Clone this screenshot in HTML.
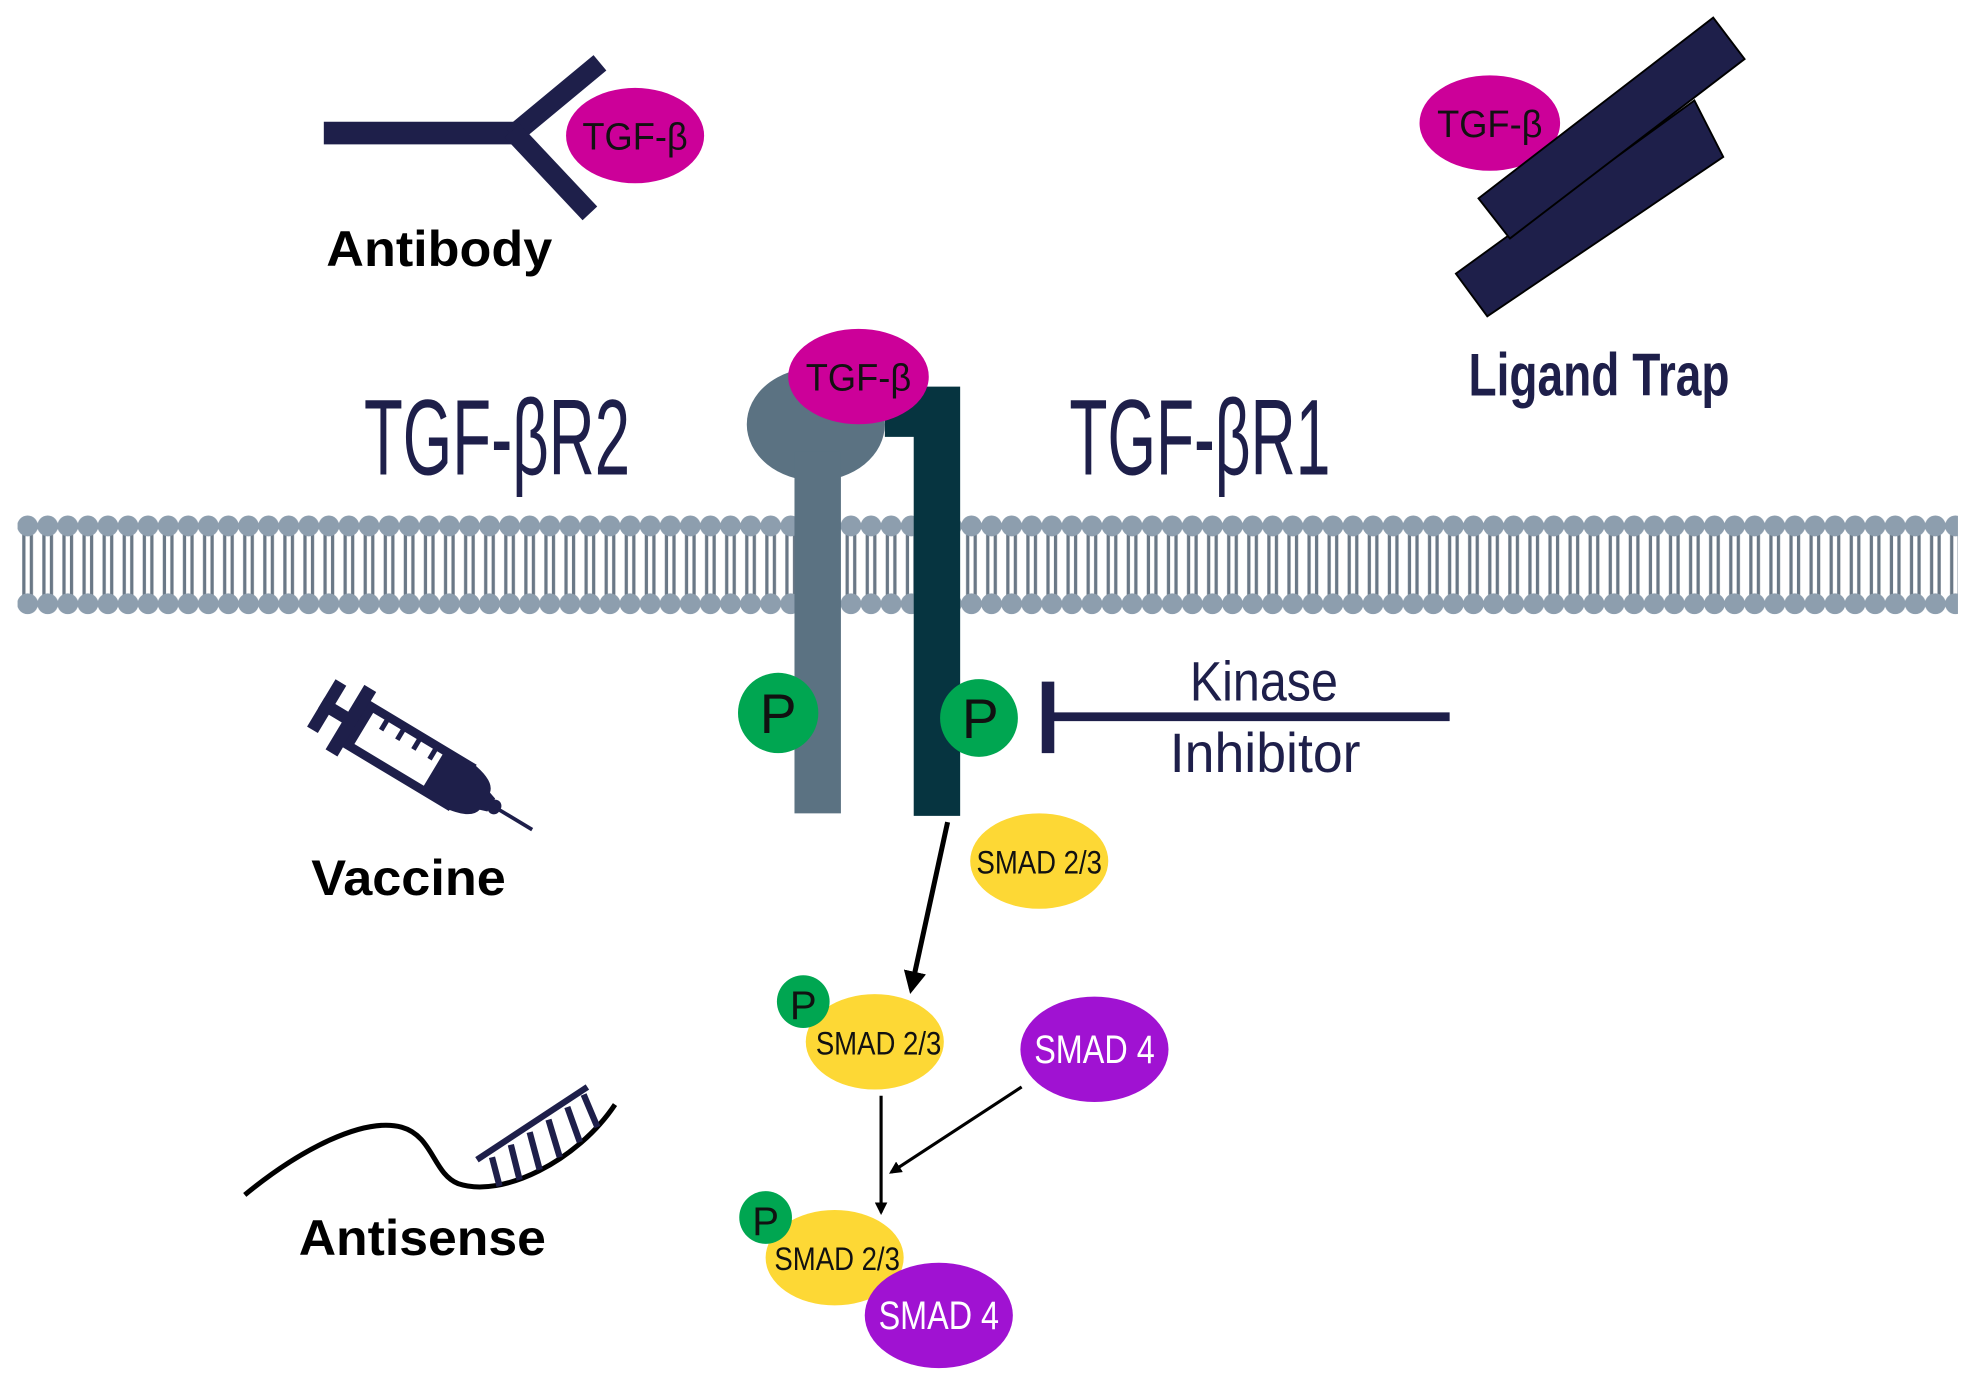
<!DOCTYPE html>
<html><head><meta charset="utf-8"><style>
html,body{margin:0;padding:0;background:#fff;}
svg{display:block;}
text{font-family:"Liberation Sans",sans-serif;}
</style></head><body>
<svg width="1968" height="1387" viewBox="0 0 1568 1105" xmlns="http://www.w3.org/2000/svg">
<defs>
<pattern id="mem" x="14" y="0" width="16" height="1105" patternUnits="userSpaceOnUse">
<line x1="5" y1="422" x2="5" y2="478" stroke="#6a7886" stroke-width="2.6"/>
<line x1="11" y1="422" x2="11" y2="478" stroke="#6a7886" stroke-width="2.6"/>
<circle cx="8" cy="419" r="8.3" fill="#8d9eae"/>
<circle cx="8" cy="481" r="8.3" fill="#8d9eae"/>
</pattern>
<marker id="ah" markerWidth="10" markerHeight="10" refX="8" refY="5" orient="auto" markerUnits="userSpaceOnUse"><path d="M0,0 L10,5 L0,10 z" fill="#000"/></marker>
<marker id="ah2" markerWidth="18" markerHeight="18" refX="14" refY="9" orient="auto" markerUnits="userSpaceOnUse"><path d="M0,0 L18,9 L0,18 z" fill="#000"/></marker>
</defs>
<rect x="0" y="0" width="1568" height="1105" fill="#fff"/>
<rect x="14" y="408" width="1546" height="84" fill="url(#mem)"/>

<!-- Antibody -->
<line x1="258" y1="106" x2="412" y2="106" stroke="#1e1f4a" stroke-width="18"/>
<line x1="408" y1="108" x2="478" y2="50" stroke="#1e1f4a" stroke-width="16"/>
<line x1="408" y1="104" x2="470" y2="170" stroke="#1e1f4a" stroke-width="16"/>
<ellipse cx="506" cy="108" rx="55" ry="38" fill="#cc0099"/>
<text x="506" y="119" font-size="30" text-anchor="middle" fill="#111" textLength="84" lengthAdjust="spacingAndGlyphs">TGF-β</text>
<text x="260" y="212" font-size="40" font-weight="bold" fill="#000" textLength="180" lengthAdjust="spacingAndGlyphs">Antibody</text>

<!-- Ligand trap -->
<ellipse cx="1187" cy="98" rx="56" ry="38" fill="#cc0099"/>
<text x="1187" y="109" font-size="30" text-anchor="middle" fill="#111" textLength="84" lengthAdjust="spacingAndGlyphs">TGF-β</text>
<polygon points="1160,218 1350,80 1373,125 1185,252" fill="#1e1f4a" stroke="#000" stroke-width="1.5"/>
<polygon points="1178,158 1365,14 1390,47 1203,190" fill="#1e1f4a" stroke="#000" stroke-width="1.5"/>
<text x="1170" y="315" font-size="48" font-weight="bold" fill="#1e1f4a" textLength="208" lengthAdjust="spacingAndGlyphs">Ligand Trap</text>

<!-- Titles -->
<text x="290" y="378" font-size="86" fill="#1e1f4a" textLength="212" lengthAdjust="spacingAndGlyphs">TGF-βR2</text>
<text x="852" y="378" font-size="86" fill="#1e1f4a" textLength="208" lengthAdjust="spacingAndGlyphs">TGF-βR1</text>

<!-- Receptors -->
<ellipse cx="650" cy="338" rx="55" ry="45" fill="#5b7282"/>
<rect x="633" y="360" width="37" height="288" fill="#5b7282"/>
<polygon points="705,308 765,308 765,650 728,650 728,348 705,348" fill="#063440"/>
<ellipse cx="684" cy="300" rx="56" ry="38" fill="#cc0099"/>
<text x="684" y="311" font-size="30" text-anchor="middle" fill="#111" textLength="84" lengthAdjust="spacingAndGlyphs">TGF-β</text>
<circle cx="620" cy="568" r="32" fill="#00a651"/>
<text x="620" y="584" font-size="44" text-anchor="middle" fill="#111">P</text>
<circle cx="780" cy="572" r="31" fill="#00a651"/>
<text x="781" y="588" font-size="44" text-anchor="middle" fill="#111">P</text>

<!-- Kinase inhibitor -->
<line x1="835" y1="571" x2="1155" y2="571" stroke="#1e1f4a" stroke-width="7"/>
<line x1="835" y1="543" x2="835" y2="600" stroke="#1e1f4a" stroke-width="10"/>
<text x="1007" y="558" font-size="44" text-anchor="middle" fill="#1e1f4a" textLength="118" lengthAdjust="spacingAndGlyphs">Kinase</text>
<text x="1008" y="615" font-size="44" text-anchor="middle" fill="#1e1f4a" textLength="152" lengthAdjust="spacingAndGlyphs">Inhibitor</text>

<!-- Vaccine syringe -->
<g transform="translate(256,560) rotate(31)" fill="#1e1f4a">
<rect x="0" y="-22" width="10" height="44"/>
<rect x="0" y="-5" width="30" height="10"/>
<rect x="22" y="-30" width="11" height="60"/>
<rect x="36" y="-18" width="92" height="36" fill="none" stroke="#1e1f4a" stroke-width="7"/>
<rect x="50" y="-18" width="4" height="12"/><rect x="65" y="-18" width="4" height="12"/><rect x="80" y="-18" width="4" height="12"/><rect x="95" y="-18" width="4" height="12"/>
<path d="M104,-21 L128,-21 Q150,-18 152,-8 L158,-6 L158,6 L152,8 Q150,18 128,21 L104,21 z"/>
<rect x="156" y="-6" width="10" height="12" rx="5"/>
<rect x="164" y="-1.5" width="32" height="3"/>
</g>
<text x="248" y="713" font-size="40" font-weight="bold" fill="#000" textLength="155" lengthAdjust="spacingAndGlyphs">Vaccine</text>

<!-- Antisense -->
<path d="M195,952 C240,915 290,890 320,898 C345,905 345,935 365,943 C400,955 460,925 490,880" fill="none" stroke="#000" stroke-width="4"/>
<g stroke="#1e1f4a" stroke-width="5">
<line x1="380" y1="924" x2="468" y2="866"/>
<line x1="392" y1="922" x2="398" y2="945"/>
<line x1="407" y1="912" x2="414" y2="940"/>
<line x1="422" y1="902" x2="430" y2="932"/>
<line x1="437" y1="892" x2="446" y2="922"/>
<line x1="452" y1="882" x2="462" y2="910"/>
<line x1="465" y1="872" x2="476" y2="898"/>
</g>
<text x="238" y="1000" font-size="40" font-weight="bold" fill="#000" textLength="197" lengthAdjust="spacingAndGlyphs">Antisense</text>

<!-- SMAD pathway -->
<ellipse cx="828" cy="686" rx="55" ry="38" fill="#fdd835"/>
<text x="828" y="696" font-size="26" text-anchor="middle" fill="#111" textLength="100" lengthAdjust="spacingAndGlyphs">SMAD 2/3</text>
<line x1="755" y1="655" x2="726" y2="788" stroke="#000" stroke-width="4" marker-end="url(#ah2)"/>

<ellipse cx="697" cy="830" rx="55" ry="38" fill="#fdd835"/>
<circle cx="640" cy="798" r="21" fill="#00a651"/>
<text x="640" y="812" font-size="32" text-anchor="middle" fill="#111">P</text>
<text x="700" y="840" font-size="26" text-anchor="middle" fill="#111" textLength="100" lengthAdjust="spacingAndGlyphs">SMAD 2/3</text>

<ellipse cx="872" cy="836" rx="59" ry="42" fill="#a012d2"/>
<text x="872" y="847" font-size="32" text-anchor="middle" fill="#fff" textLength="96" lengthAdjust="spacingAndGlyphs">SMAD 4</text>

<line x1="702" y1="873" x2="702" y2="966" stroke="#000" stroke-width="2.5" marker-end="url(#ah)"/>
<line x1="814" y1="866" x2="710" y2="934" stroke="#000" stroke-width="2.5" marker-end="url(#ah)"/>

<ellipse cx="665" cy="1002" rx="55" ry="38" fill="#fdd835"/>
<circle cx="610" cy="970" r="21" fill="#00a651"/>
<text x="610" y="984" font-size="32" text-anchor="middle" fill="#111">P</text>
<text x="667" y="1012" font-size="26" text-anchor="middle" fill="#111" textLength="100" lengthAdjust="spacingAndGlyphs">SMAD 2/3</text>
<ellipse cx="748" cy="1048" rx="59" ry="42" fill="#a012d2"/>
<text x="748" y="1059" font-size="32" text-anchor="middle" fill="#fff" textLength="96" lengthAdjust="spacingAndGlyphs">SMAD 4</text>
</svg>
</body></html>
